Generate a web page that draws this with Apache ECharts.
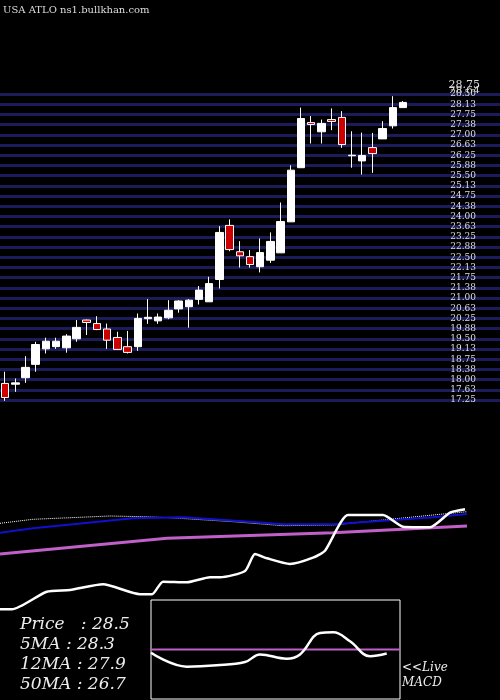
<!DOCTYPE html>
<html>
<head>
<meta charset="utf-8">
<script src="https://cdn.jsdelivr.net/npm/echarts@6/dist/echarts.min.js"></script>
<style>
  html, body { margin: 0; padding: 0; background: #000; }
  #chart { width: 500px; height: 700px; }
</style>
</head>
<body>
<div id="chart"></div>
<script>
'use strict';
// DATA
// candles: [open, close, low, high]
const candles = [
  [17.86, 17.34, 17.22, 18.29], [17.83, 17.88, 17.55, 18.04], [18.07, 18.45, 17.88, 18.86],
  [18.56, 19.29, 18.29, 19.39], [19.13, 19.41, 18.96, 19.54], [19.21, 19.41, 19.13, 19.54],
  [19.17, 19.60, 18.99, 19.67], [19.50, 19.92, 19.39, 20.19], [20.19, 20.10, 19.64, 20.21],
  [20.06, 19.84, 19.82, 20.33], [19.86, 19.45, 19.13, 20.06], [19.55, 19.11, 19.11, 19.76],
  [19.21, 19.00, 18.96, 19.79], [19.21, 20.25, 19.06, 20.43], [20.24, 20.29, 20.05, 20.96],
  [20.16, 20.30, 20.05, 20.43], [20.27, 20.55, 20.22, 20.92], [20.60, 20.89, 20.46, 20.92],
  [20.68, 20.92, 19.91, 20.96], [20.95, 21.29, 20.76, 21.44], [20.86, 21.53, 20.86, 21.78],
  [21.68, 23.41, 21.35, 23.64], [23.67, 22.78, 22.72, 23.89], [22.70, 22.55, 22.12, 23.09],
  [22.52, 22.23, 22.12, 22.76], [22.15, 22.67, 21.94, 23.19], [22.39, 23.08, 22.29, 23.41],
  [22.66, 23.81, 22.66, 24.51], [23.80, 25.70, 23.80, 25.88], [25.79, 27.60, 25.79, 28.00],
  [27.45, 27.38, 26.68, 27.69], [27.11, 27.42, 26.68, 27.56], [27.56, 27.49, 27.17, 27.97],
  [27.64, 26.64, 26.52, 27.87], [26.23, 26.25, 25.79, 27.13], [26.04, 26.24, 25.54, 27.08],
  [26.53, 26.31, 25.60, 27.07], [26.85, 27.23, 26.85, 27.50], [27.33, 28.00, 27.23, 28.42],
  [28.00, 28.19, 28.00, 28.24],
];
const slotCount = 49;
// indicator panel lines: [x, level]
const ma5Dotted = [[0, 106.7], [33, 110.7], [110, 114], [143, 113.3], [170, 112.3], [233, 108.3],
  [283, 104.3], [333, 105], [383, 110], [433, 115], [467, 118.3]];
const ma12Blue = [[0, 97.3], [33, 101.7], [133, 111.7], [183, 112.7], [250, 108.3], [283, 105.7],
  [333, 105.7], [383, 109.3], [433, 112.7], [467, 116]];
const ma50Violet = [[0, 76], [167, 91.7], [333, 97.3], [467, 104]];
const strengthWhite = [[0, 20.7], [12, 20.7], [46.7, 38.3], [70, 40], [103, 45.7], [140, 35.7],
  [152, 35.7], [163, 48.3], [187, 47.7], [210, 52.7], [220, 52.7], [245, 59], [255, 76],
  [267, 71.7], [290, 66], [313, 72.3], [325, 79.3], [348, 115], [383, 115], [403, 103.3],
  [430, 102.7], [450, 117.3], [465, 120.7]];
const macdLine = [[0, 46.7], [35.7, 32.7], [65.7, 34], [94, 37.3], [109, 45], [135.7, 40.7],
  [149, 45], [169, 66.7], [182.3, 67.3], [199, 58.3], [219, 43.3], [235.7, 46]];
const macdSignal = [[0, 50], [249, 50]];
const infoLines = ['Price   : 28.5', '5MA : 28.3', '12MA : 27.9', '50MA : 26.7'];
const topLabels = ['28.75', '28.64'];

const chart = echarts.init(document.getElementById('chart'));
const serif = 'DejaVu Serif, Liberation Serif, serif';

const option = {
  backgroundColor: '#000',
  animation: false,
  grid: [
    {left: -2, right: 0, top: 94, height: 306},
    {left: 0, right: 0, top: 490, height: 140},
    {left: 151, top: 600, width: 249, height: 99, show: true,
      borderColor: '#fff', borderWidth: 1, backgroundColor: 'transparent'},
  ],
  xAxis: [
    {gridIndex: 0, type: 'category', data: Array.from({length: slotCount}, (_, i) => i),
      show: false},
    {gridIndex: 1, type: 'value', min: 0, max: 500, show: false},
    {gridIndex: 2, type: 'value', min: 0, max: 249, show: false},
  ],
  yAxis: [
    {gridIndex: 0, type: 'value', min: 17.25, max: 28.5, interval: 0.375,
      position: 'right',
      axisLine: {show: false}, axisTick: {show: false},
      splitLine: {lineStyle: {color: '#1c1c5a', width: 3}},
      axisLabel: {inside: true, margin: 24, color: '#ddd', fontSize: 9,
        fontFamily: serif, formatter: (v) => v.toFixed(2)}},
    {gridIndex: 1, type: 'value', min: 0, max: 140, show: false},
    {gridIndex: 2, type: 'value', min: 0, max: 100, show: false},
  ],
  series: [
    {type: 'candlestick', xAxisIndex: 0, yAxisIndex: 0, data: candles, barWidth: 8,
      itemStyle: {color: '#fff', borderColor: '#fff', color0: '#cc0000',
        borderColor0: '#fff', borderWidth: 1}},
    {type: 'line', xAxisIndex: 1, yAxisIndex: 1, data: ma5Dotted, symbol: 'none',
      lineStyle: {color: '#fff', width: 1, type: 'dotted'}},
    {type: 'line', xAxisIndex: 1, yAxisIndex: 1, data: ma12Blue, symbol: 'none',
      lineStyle: {color: '#1010d0', width: 2}},
    {type: 'line', xAxisIndex: 1, yAxisIndex: 1, data: ma50Violet, symbol: 'none',
      lineStyle: {color: '#c060c8', width: 3}},
    {type: 'line', xAxisIndex: 1, yAxisIndex: 1, data: strengthWhite, symbol: 'none',
      smooth: 0.2, lineStyle: {color: '#fff', width: 2.5}},
    {type: 'line', xAxisIndex: 2, yAxisIndex: 2, data: macdSignal, symbol: 'none',
      lineStyle: {color: '#c060c8', width: 2}},
    {type: 'line', xAxisIndex: 2, yAxisIndex: 2, data: macdLine, symbol: 'none',
      smooth: 0.4, lineStyle: {color: '#fff', width: 2.5}},
  ],
  graphic: [
    {type: 'text', left: 3, top: 5, style: {text: 'USA ATLO ns1.bullkhan.com',
      fill: '#ddd', font: '10px ' + serif}},
    ...topLabels.map((t, i) => ({type: 'text', right: 20, top: 80 + i * 6,
      style: {text: t, fill: '#ddd', font: '11px ' + serif}})),
    ...infoLines.map((t, i) => ({type: 'text', left: 20, top: 616 + i * 20,
      style: {text: t, fill: '#eee', font: 'italic 17px ' + serif}})),
    {type: 'text', left: 402, top: 660, style: {text: '<<Live\nMACD',
      fill: '#eee', font: 'italic 12px ' + serif, lineHeight: 15}},
  ],
};
chart.setOption(option);
</script>
</body>
</html>
